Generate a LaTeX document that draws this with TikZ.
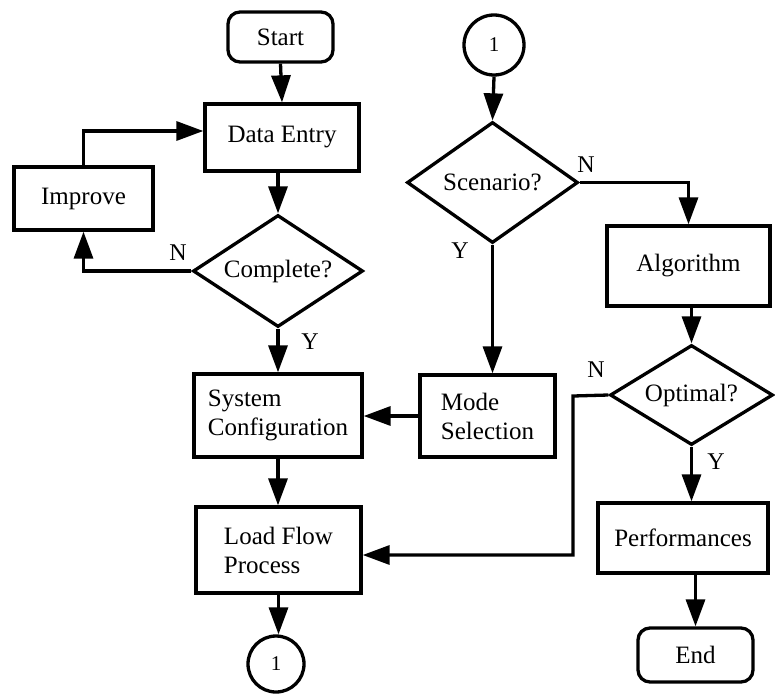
\documentclass[tikz,border=0pt]{standalone}
\usepackage{fontspec}
\setmainfont{Liberation Serif}
\usetikzlibrary{shapes.geometric,arrows.meta}
\begin{document}
\begin{tikzpicture}[x=1pt,y=-1pt,
  every node/.style={font=\fontsize{25}{29}\selectfont, text=black},
  box/.style={draw, line width=3.3pt, rectangle, inner sep=0pt, align=left},
  term/.style={box, rounded corners=12pt},
  dec/.style={draw, line width=3.3pt, diamond, inner sep=0pt},
  conn/.style={draw, line width=3.3pt, circle, inner sep=0pt},
  lbl/.style={font=\fontsize{24}{28}\selectfont},
  flow/.style={line width=3.3pt, -{Triangle[width=19pt,length=27pt]}}
]
\useasboundingbox (0,0) rectangle (775,693);
\node[term, minimum width=105pt, minimum height=50pt] (start) at (280.5,37) {Start};
\node[box, minimum width=154pt, minimum height=67pt] (data) at (282,137.5) {Data Entry};
\node[box, minimum width=139pt, minimum height=63pt] (improve) at (83.5,198.5) {Improve};
\node[dec, minimum width=170pt, minimum height=112pt, aspect=1.52] (complete) at (278,271) {Complete?};
\node[box, minimum width=168pt, minimum height=83pt] (sys) at (278,415.5) {System\\Configuration};
\node[box, minimum width=165pt, minimum height=86pt] (load) at (278.5,550) {Load Flow\\Process};
\node[conn, minimum size=56pt, font=\fontsize{21}{24}\selectfont] (c1b) at (276,664) {1};

\node[conn, minimum size=60pt, font=\fontsize{21}{24}\selectfont] (c1t) at (494,45) {1};
\node[dec, minimum width=171pt, minimum height=121pt, aspect=1.41] (scen) at (492.5,182.5) {Scenario?};
\node[box, minimum width=163pt, minimum height=80pt] (algo) at (688.5,266) {Algorithm};
\node[box, minimum width=135pt, minimum height=82pt] (mode) at (487.5,416) {Mode\\Selection};
\node[dec, minimum width=163pt, minimum height=100pt, aspect=1.63] (opt) at (691.5,395) {Optimal?};
\node[box, minimum width=170pt, minimum height=70pt] (perf) at (683,538) {Performances};
\node[term, minimum width=115pt, minimum height=54pt] (end) at (695.5,655) {End};

\coordinate (bend) at (573,396);

\node[lbl] (n1) at (178,253) {N};
\node[lbl] (y1) at (310,342) {Y};
\node[lbl] (n2) at (586,165) {N};
\node[lbl] (y2) at (460,251) {Y};
\node[lbl] (n3) at (596,370) {N};
\node[lbl] (y3) at (716,462) {Y};

\draw[flow] (start.south) -- (data.north);
\draw[flow] (data.south -| complete.north) -- (complete.north);
\draw[flow] (complete.west) -| (improve.south);
\draw[flow] (improve.north) |- ([yshift=6.5pt]data.west);
\draw[flow] (complete.south) -- (sys.north);
\draw[flow] (sys.south) -- (sys.south |- load.north);
\draw[flow] (load.south) -- (load.south |- c1b.north);

\draw[flow] (c1t.south) -- (scen.north);
\draw[flow] (scen.east) -| (algo.north);
\draw[flow] (scen.south) -- (scen.south |- mode.north);
\draw[flow] (mode.west) -- (mode.west -| sys.east);
\draw[flow] (algo.south -| opt.north) -- (opt.north);
\draw[flow] (opt.west) -- (bend) |- ([yshift=-5pt]load.east);
\draw[flow] (opt.south) -- (opt.south |- perf.north);
\draw[flow] (perf.south -| end.north) -- (end.north);
\end{tikzpicture}
\end{document}
